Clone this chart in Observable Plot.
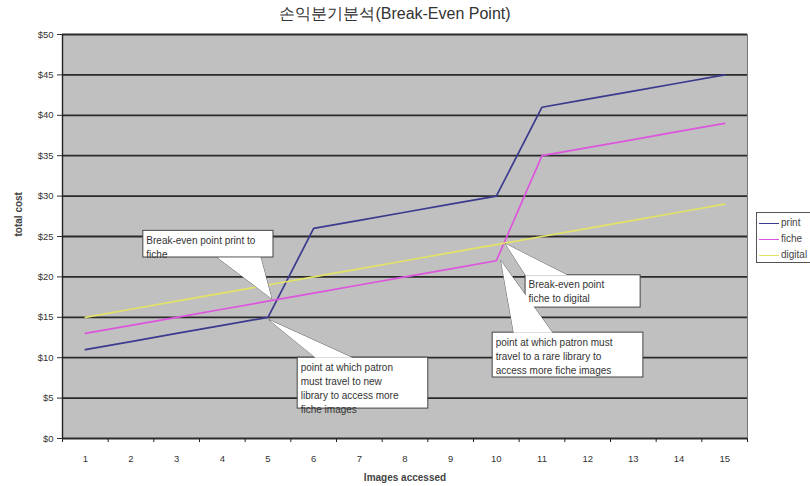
<!DOCTYPE html>
<html><head><meta charset="utf-8">
<script src="https://cdn.jsdelivr.net/npm/d3@7"></script>
<script src="https://cdn.jsdelivr.net/npm/@observablehq/plot@0.6"></script>
<style>
body{margin:0;background:#fff;font-family:"Liberation Sans",Arial,sans-serif;}
#wrap{position:relative;width:810px;height:486px;overflow:hidden;}
#title{height:28px;line-height:28px;width:790px;text-align:center;font-size:16px;color:#333;}
#legend{position:absolute;left:756px;top:212px;width:60px;height:49px;border:1px solid #555;background:#fff;font-size:10px;color:#444;}
#legend .row{position:absolute;left:2px;height:12px;line-height:12px;}
#legend .sw{display:inline-block;width:20px;height:0;border-top:1.5px solid;vertical-align:middle;margin-right:2px;}
</style></head>
<body><div id="wrap"><div id="title">손익분기분석(Break-Even Point)</div><div id="chart"></div><div id="legend"></div></div>
<script>
// ---- data ----
const images = [1,2,3,4,5,6,7,8,9,10,11,12,13,14,15];
const printCost   = [11,12,13,14,15,26,27,28,29,30,41,42,43,44,45];
const ficheCost   = [13,14,15,16,17,18,19,20,21,22,35,36,37,38,39];
const digitalCost = [15,16,17,18,19,20,21,22,23,24,25,26,27,28,29];
const seriesNames = ["print","fiche","digital"];
const seriesColors = ["#3a3a8e","#dd55dd","#e2e266"];
const yTicks = [0,5,10,15,20,25,30,35,40,45,50];
const xLabel = "Images accessed";
const yLabel = "total cost";
// callouts: box corners (data units), wedge base on box edge, tip point
const calloutText = [
  "Break-even point print to\nfiche",
  "point at which patron\nmust travel to new\nlibrary to access more\nfiche images",
  "Break-even point\nfiche to digital",
  "point at which patron must\ntravel to a rare library to\naccess more fiche images"
];
const calloutBox = [ // [x1, x2, yTop, yBottom]
  [2.27, 5.12, 25.7, 22.4],
  [5.65, 8.51, 10.0, 3.70],
  [10.64, 13.16, 20.2, 16.2],
  [9.92, 13.22, 13.1, 7.55]
];
const calloutWedge = [ // [baseX1, baseX2, baseY, tipX, tipY]
  [3.89, 4.84, 22.4, 5.08, 17.3],
  [6.04, 6.85, 10.0, 5.02, 14.7],
  [10.64, 11.56, 20.2, 10.2, 24.1],
  [10.38, 11.23, 13.1, 10.1, 22.0]
];

// ---- tables ----
const series = [printCost, ficheCost, digitalCost];
const rows = [];
series.forEach((vals, s) => vals.forEach((v, i) => rows.push({x: images[i], y: v, name: seriesNames[s]})));
const boundaries = [images[0] - 0.5, ...images.map(d => d + 0.5)];
const boxes = calloutBox.map((b, i) => ({x1: b[0], x2: b[1], y1: b[3], y2: b[2], text: calloutText[i]}));
const wedges = [];
calloutWedge.forEach((w, i) => {
  wedges.push({id: i, x: w[0], y: w[2]}, {id: i, x: w[3], y: w[4]}, {id: i, x: w[1], y: w[2]});
});

const chart = Plot.plot({
  width: 810, height: 458,
  marginTop: 6, marginBottom: 48, marginLeft: 62, marginRight: 63,
  style: {fontFamily: "Liberation Sans, Arial, sans-serif", fontSize: "9.5px", color: "#333", overflow: "visible"},
  x: {domain: [0.5, 15.5], ticks: images, label: null},
  y: {domain: [0, 50], ticks: yTicks, label: null},
  color: {domain: seriesNames, range: seriesColors},
  marks: [
    Plot.frame({fill: "#c0c0c0", stroke: "#777"}),
    Plot.ruleY(yTicks, {stroke: "#2a2a2a", strokeWidth: 1.8}),
    Plot.ruleX([boundaries[0]], {stroke: "#222", strokeWidth: 1.4}),
    Plot.ruleX(boundaries, {y1: 0, y2: -0.5, stroke: "#222"}),
    Plot.axisY({ticks: yTicks, tickFormat: d => "$" + d, tickSize: 5, tickPadding: 4, fontSize: 9.5, label: null}),
    Plot.axisX({ticks: images, tickSize: 0, tickPadding: 17, fontSize: 9.5, label: null}),
    Plot.text([xLabel], {frameAnchor: "bottom", dy: 42, fontSize: 10, fontWeight: "bold", fill: "#444"}),
    Plot.text([yLabel], {frameAnchor: "left", dx: -44, rotate: -90, fontSize: 10, fontWeight: "bold", fill: "#444"}),
    Plot.line(rows, {x: "x", y: "y", z: "name", stroke: "name", strokeWidth: 1.7}),
    Plot.line(wedges, {x: "x", y: "y", z: "id", fill: "white", stroke: "#444", strokeWidth: 0.8, curve: "linear-closed"}),
    Plot.rect(boxes, {x1: "x1", x2: "x2", y1: "y1", y2: "y2", fill: "white", stroke: "#444", strokeWidth: 1}),
    Plot.line(wedges, {x: "x", y: "y", z: "id", fill: "white", stroke: "none", curve: "linear-closed"}),
    Plot.text(boxes, {x: "x1", y: "y2", text: "text", textAnchor: "start", lineAnchor: "top", dx: 3, dy: 3,
      fontSize: 10, lineHeight: 1.4, fill: "#333"})
  ]
});
document.getElementById("chart").appendChild(chart);

const leg = document.getElementById("legend");
seriesNames.forEach((n, i) => {
  const r = document.createElement("div");
  r.className = "row";
  r.style.top = (4 + i * 16) + "px";
  r.innerHTML = `<span class="sw" style="border-color:${seriesColors[i]}"></span>${n}`;
  leg.appendChild(r);
});
</script></body></html>
